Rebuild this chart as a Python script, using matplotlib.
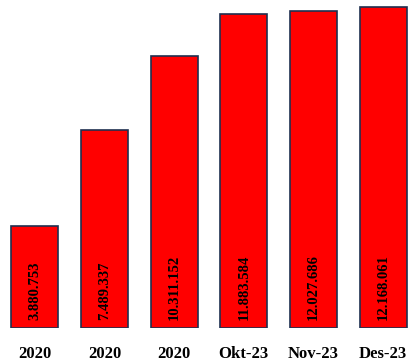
import matplotlib
matplotlib.use("Agg")
import matplotlib.pyplot as plt
import numpy as np

labels = ["2020", "2020", "2020", "Okt-23", "Nov-23", "Des-23"]
values = [3880753, 7489337, 10311152, 11883584, 12027686, 12168061]
value_text = ["3.880.753", "7.489.337", "10.311.152", "11.883.584", "12.027.686", "12.168.061"]

fig = plt.figure(figsize=(4.18, 3.63), dpi=100)
ax = fig.add_axes([0.0, 0.0964, 1.0, 0.89])

x = np.arange(len(labels))
ax.bar(x, values, width=0.67, color="#ff0000", edgecolor="#1f3050", linewidth=1.2)

for i, txt in enumerate(value_text):
    ax.annotate(txt, xy=(x[i], 0), xytext=(0, 6), textcoords="offset points",
                rotation=90, ha="center", va="bottom", fontsize=10.5,
                family="Liberation Serif", fontweight="bold", color="black")

ax.set_xlim(-0.5, len(labels) - 0.5)
ax.set_ylim(0, 12240000)
ax.set_xticks(x)
ax.set_xticklabels(labels, family="Liberation Serif", fontweight="bold", fontsize=12)
ax.tick_params(axis="x", length=0, pad=13)
ax.set_yticks([])
for s in ax.spines.values():
    s.set_visible(False)

fig.savefig("out.png", dpi=100)
